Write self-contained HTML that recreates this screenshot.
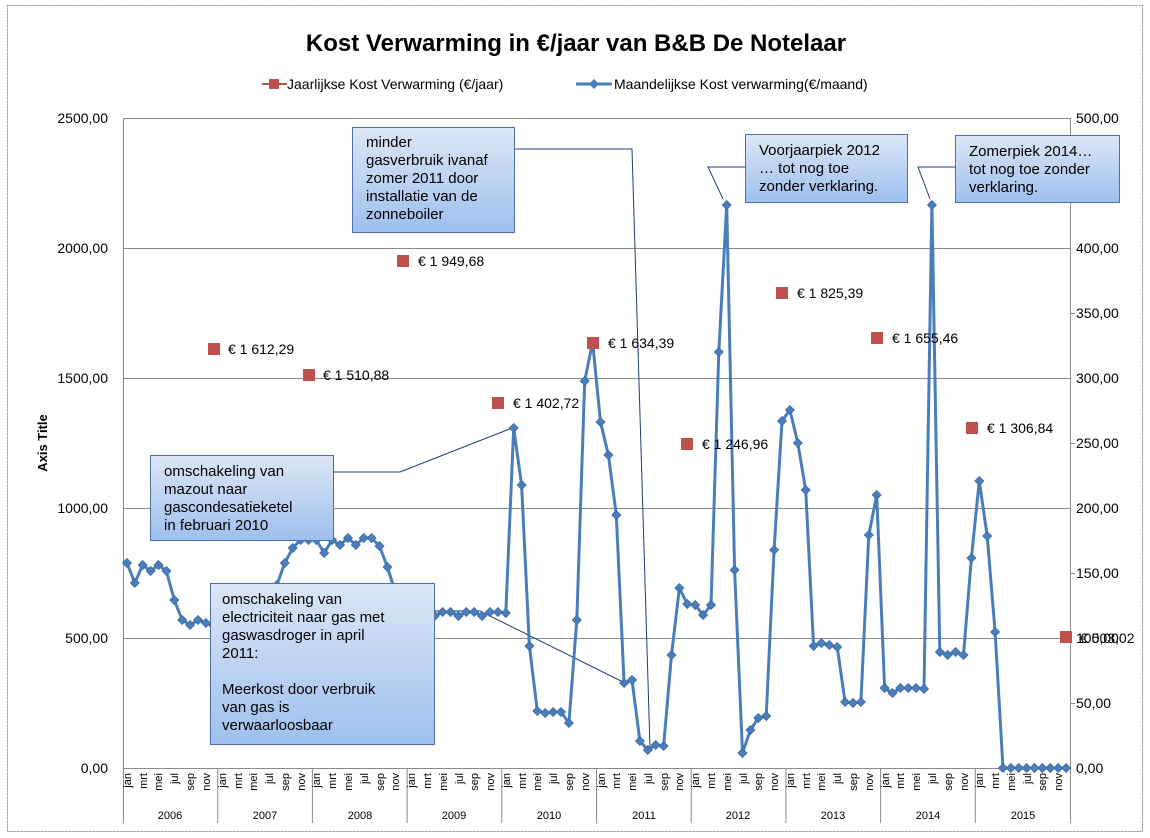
<!DOCTYPE html>
<html><head><meta charset="utf-8"><style>
html,body{margin:0;padding:0;background:#fff;}
svg{display:block;font-family:"Liberation Sans",sans-serif;}
.ann{position:absolute;border:1px solid #4f6fa8;background:linear-gradient(#dbe6f6,#9ec0ee);font:15px "Liberation Sans",sans-serif;color:#000;line-height:18px;padding:0 0 0 13px;box-sizing:border-box;}
</style></head><body>
<div style="position:relative;width:1150px;height:838px;overflow:hidden">
<svg width="1150" height="838" viewBox="0 0 1150 838">
<defs>
<marker id="d" viewBox="-5 -5 10 10" markerWidth="10" markerHeight="10" refX="0" refY="0" markerUnits="userSpaceOnUse">
<path d="M0,-4.5 L4.5,0 L0,4.5 L-4.5,0Z" fill="#4a7ebb" stroke="#3a6aa5" stroke-width="0.8"/>
</marker>
</defs>
<rect x="7.5" y="5.5" width="1135" height="826" fill="#fff" stroke="#888" stroke-dasharray="2,1"/>
<text x="576" y="51" text-anchor="middle" font-size="24" font-weight="bold">Kost Verwarming in €/jaar van B&amp;B De Notelaar</text>
<!-- legend -->
<line x1="262" y1="84" x2="287" y2="84" stroke="#c0504d" stroke-width="2"/>
<rect x="269" y="79" width="10" height="10" fill="#c0504d"/>
<text x="287" y="89" font-size="14">Jaarlijkse Kost Verwarming (€/jaar)</text>
<line x1="576" y1="84" x2="612" y2="84" stroke="#4a7ebb" stroke-width="3"/>
<path d="M594,79 L599,84 L594,89 L589,84Z" fill="#4a7ebb"/>
<text x="614" y="89" font-size="14">Maandelijkse Kost verwarming(€/maand)</text>
<!-- grid -->
<g stroke="#8a8a8a" stroke-width="1">
<line x1="123" y1="118.5" x2="1070" y2="118.5"/>
<line x1="123" y1="248.5" x2="1070" y2="248.5"/>
<line x1="123" y1="378.5" x2="1070" y2="378.5"/>
<line x1="123" y1="508.5" x2="1070" y2="508.5"/>
<line x1="123" y1="638.5" x2="1070" y2="638.5"/>
<line x1="123" y1="768.5" x2="1070" y2="768.5"/>
<line x1="123.5" y1="118" x2="123.5" y2="823"/>
<line x1="1070.5" y1="118" x2="1070.5" y2="823"/>
<line x1="217.7" y1="768" x2="217.7" y2="823"/><line x1="312.4" y1="768" x2="312.4" y2="823"/>
<line x1="407.1" y1="768" x2="407.1" y2="823"/><line x1="501.8" y1="768" x2="501.8" y2="823"/>
<line x1="596.5" y1="768" x2="596.5" y2="823"/><line x1="691.2" y1="768" x2="691.2" y2="823"/>
<line x1="785.9" y1="768" x2="785.9" y2="823"/><line x1="880.6" y1="768" x2="880.6" y2="823"/>
<line x1="975.3" y1="768" x2="975.3" y2="823"/>
<line x1="1070" y1="183.5" x2="1075" y2="183.5"/><line x1="1070" y1="313.5" x2="1075" y2="313.5"/>
<line x1="1070" y1="443.5" x2="1075" y2="443.5"/><line x1="1070" y1="573.5" x2="1075" y2="573.5"/>
<line x1="1070" y1="703.5" x2="1075" y2="703.5"/>
</g>
<!-- left axis labels -->
<g font-size="14" text-anchor="end">
<text x="108" y="123">2500,00</text><text x="108" y="253">2000,00</text><text x="108" y="383">1500,00</text>
<text x="108" y="513">1000,00</text><text x="108" y="643">500,00</text><text x="108" y="773">0,00</text>
</g>
<g font-size="14">
<text x="1076" y="123">500,00</text><text x="1076" y="188">450,00</text><text x="1076" y="253">400,00</text>
<text x="1076" y="318">350,00</text><text x="1076" y="383">300,00</text><text x="1076" y="448">250,00</text>
<text x="1076" y="513">200,00</text><text x="1076" y="578">150,00</text><text x="1076" y="643">100,00</text>
<text x="1076" y="708">50,00</text><text x="1076" y="773">0,00</text>
</g>
<text transform="translate(47,443) rotate(-90)" text-anchor="middle" font-size="13" font-weight="bold">Axis Title</text>
<!-- month labels -->
<g font-size="11" text-anchor="end">
<text transform="translate(131,773) rotate(-90)">jan</text><text transform="translate(147,773) rotate(-90)">mrt</text><text transform="translate(162,773) rotate(-90)">mei</text><text transform="translate(178,773) rotate(-90)">jul</text><text transform="translate(194,773) rotate(-90)">sep</text><text transform="translate(210,773) rotate(-90)">nov</text>
<text transform="translate(226,773) rotate(-90)">jan</text><text transform="translate(242,773) rotate(-90)">mrt</text><text transform="translate(257,773) rotate(-90)">mei</text><text transform="translate(273,773) rotate(-90)">jul</text><text transform="translate(289,773) rotate(-90)">sep</text><text transform="translate(305,773) rotate(-90)">nov</text>
<text transform="translate(320,773) rotate(-90)">jan</text><text transform="translate(336,773) rotate(-90)">mrt</text><text transform="translate(352,773) rotate(-90)">mei</text><text transform="translate(368,773) rotate(-90)">jul</text><text transform="translate(384,773) rotate(-90)">sep</text><text transform="translate(399,773) rotate(-90)">nov</text>
<text transform="translate(415,773) rotate(-90)">jan</text><text transform="translate(431,773) rotate(-90)">mrt</text><text transform="translate(447,773) rotate(-90)">mei</text><text transform="translate(463,773) rotate(-90)">jul</text><text transform="translate(478,773) rotate(-90)">sep</text><text transform="translate(494,773) rotate(-90)">nov</text>
<text transform="translate(510,773) rotate(-90)">jan</text><text transform="translate(526,773) rotate(-90)">mrt</text><text transform="translate(541,773) rotate(-90)">mei</text><text transform="translate(557,773) rotate(-90)">jul</text><text transform="translate(573,773) rotate(-90)">sep</text><text transform="translate(589,773) rotate(-90)">nov</text>
<text transform="translate(605,773) rotate(-90)">jan</text><text transform="translate(620,773) rotate(-90)">mrt</text><text transform="translate(636,773) rotate(-90)">mei</text><text transform="translate(652,773) rotate(-90)">jul</text><text transform="translate(668,773) rotate(-90)">sep</text><text transform="translate(683,773) rotate(-90)">nov</text>
<text transform="translate(699,773) rotate(-90)">jan</text><text transform="translate(715,773) rotate(-90)">mrt</text><text transform="translate(731,773) rotate(-90)">mei</text><text transform="translate(747,773) rotate(-90)">jul</text><text transform="translate(762,773) rotate(-90)">sep</text><text transform="translate(778,773) rotate(-90)">nov</text>
<text transform="translate(794,773) rotate(-90)">jan</text><text transform="translate(810,773) rotate(-90)">mrt</text><text transform="translate(825,773) rotate(-90)">mei</text><text transform="translate(841,773) rotate(-90)">jul</text><text transform="translate(857,773) rotate(-90)">sep</text><text transform="translate(873,773) rotate(-90)">nov</text>
<text transform="translate(889,773) rotate(-90)">jan</text><text transform="translate(904,773) rotate(-90)">mrt</text><text transform="translate(920,773) rotate(-90)">mei</text><text transform="translate(936,773) rotate(-90)">jul</text><text transform="translate(952,773) rotate(-90)">sep</text><text transform="translate(968,773) rotate(-90)">nov</text>
<text transform="translate(983,773) rotate(-90)">jan</text><text transform="translate(999,773) rotate(-90)">mrt</text><text transform="translate(1015,773) rotate(-90)">mei</text><text transform="translate(1031,773) rotate(-90)">jul</text><text transform="translate(1046,773) rotate(-90)">sep</text><text transform="translate(1062,773) rotate(-90)">nov</text>
</g>
<g font-size="11" text-anchor="middle">
<text x="170" y="819">2006</text><text x="265" y="819">2007</text><text x="360" y="819">2008</text><text x="454" y="819">2009</text><text x="549" y="819">2010</text>
<text x="644" y="819">2011</text><text x="738" y="819">2012</text><text x="833" y="819">2013</text><text x="928" y="819">2014</text><text x="1023" y="819">2015</text>
</g>
<!-- leader lines -->
<g stroke="#1f3f73" stroke-width="1" fill="none">
<polyline points="514,149 632,149 650,748"/>
<polyline points="333,472 400,472 512,428"/>
<polyline points="434,611 480,611 625,683"/>
<polyline points="745,167 708,167 723,199"/>
<polyline points="955,167 918,167 930,199"/>
</g>
<!-- monthly series -->
<polyline fill="none" stroke="#4a7ebb" stroke-width="3" stroke-linejoin="round" marker-start="url(#d)" marker-mid="url(#d)" marker-end="url(#d)" points="
127.0,563 134.8,583 142.7,565 150.6,571 158.5,565 166.4,571 174.3,600 182.2,620 190.1,625 198.0,620 205.9,623 213.8,626
221.7,622 229.5,622 237.4,622 245.3,622 253.2,622 261.1,620 269.0,605 276.9,585 284.8,563 292.7,548 300.6,540 308.5,540
316.4,540 324.2,553 332.1,540 340.0,545 347.9,538 355.8,545 363.7,538 371.6,538 379.5,546 387.4,567 395.3,592 403.2,614
411.1,612 419.0,616 426.9,612 434.7,616 442.6,612 450.5,612 458.4,616 466.3,612 474.2,612 482.1,616 490.0,612 497.9,612
505.8,613 513.7,428 521.6,485 529.4,646 537.3,711 545.2,713 553.1,712 561.0,712 568.9,723 576.8,620 584.7,381 592.6,342
600.5,422 608.4,455 616.3,515 624.1,683 632.0,680 639.9,741 647.8,750 655.7,745 663.6,746 671.5,655 679.4,588 687.3,604
695.2,605 703.1,615 711.0,605 718.8,352 726.7,205 734.6,570 742.5,753 750.4,730 758.3,718 766.2,716 774.1,550 782.0,421
789.9,410 797.8,443 805.7,490 813.6,646 821.4,643 829.3,645 837.2,647 845.1,702 853.0,703 860.9,702 868.8,535 876.7,495
884.6,688 892.5,693 900.4,688 908.3,688 916.1,688 924.0,689 931.9,205 939.8,652 947.7,655 955.6,652 963.5,655 971.4,558
979.3,481 987.2,536 995.1,632 1003.0,768 1010.8,768 1018.7,768 1026.6,768 1034.5,768 1042.4,768 1050.3,768 1058.2,768 1066.1,768"/>
<!-- yearly squares -->
<g fill="#c0504d">
<rect x="208" y="343" width="12" height="12"/><rect x="303" y="369" width="12" height="12"/>
<rect x="397" y="255" width="12" height="12"/><rect x="492" y="397" width="12" height="12"/>
<rect x="587" y="337" width="12" height="12"/><rect x="681" y="438" width="12" height="12"/>
<rect x="776" y="287" width="12" height="12"/><rect x="871" y="332" width="12" height="12"/>
<rect x="966" y="422" width="12" height="12"/><rect x="1060" y="631" width="12" height="12"/>
</g>
<g font-size="14">
<text x="228" y="354">€ 1 612,29</text><text x="323" y="380">€ 1 510,88</text>
<text x="418" y="266">€ 1 949,68</text><text x="513" y="408">€ 1 402,72</text>
<text x="608" y="348">€ 1 634,39</text><text x="702" y="449">€ 1 246,96</text>
<text x="797" y="298">€ 1 825,39</text><text x="892" y="343">€ 1 655,46</text>
<text x="987" y="433">€ 1 306,84</text><text x="1080" y="643">€ 503,02</text>
</g>
</svg>
<div class="ann" style="left:352px;top:127px;width:163px;height:106px;padding-top:6px">minder<br>gasverbruik ivanaf<br>zomer 2011 door<br>installatie van de<br>zonneboiler</div>
<div class="ann" style="left:745px;top:134px;width:163px;height:69px;padding-top:7px">Voorjaarpiek 2012<br>… tot nog toe<br>zonder verklaring.</div>
<div class="ann" style="left:955px;top:135px;width:165px;height:68px;padding-top:7px">Zomerpiek 2014…<br>tot nog toe zonder<br>verklaring.</div>
<div class="ann" style="left:150px;top:455px;width:184px;height:86px;padding-top:7px">omschakeling van<br>mazout naar<br>gascondesatieketel<br>in februari 2010</div>
<div class="ann" style="left:210px;top:583px;width:225px;height:162px;padding-top:7px;padding-left:11px">omschakeling van<br>electriciteit naar gas met<br>gaswasdroger in april<br>2011:<br><br>Meerkost door verbruik<br>van gas is<br>verwaarloosbaar</div>
</div>
</body></html>
